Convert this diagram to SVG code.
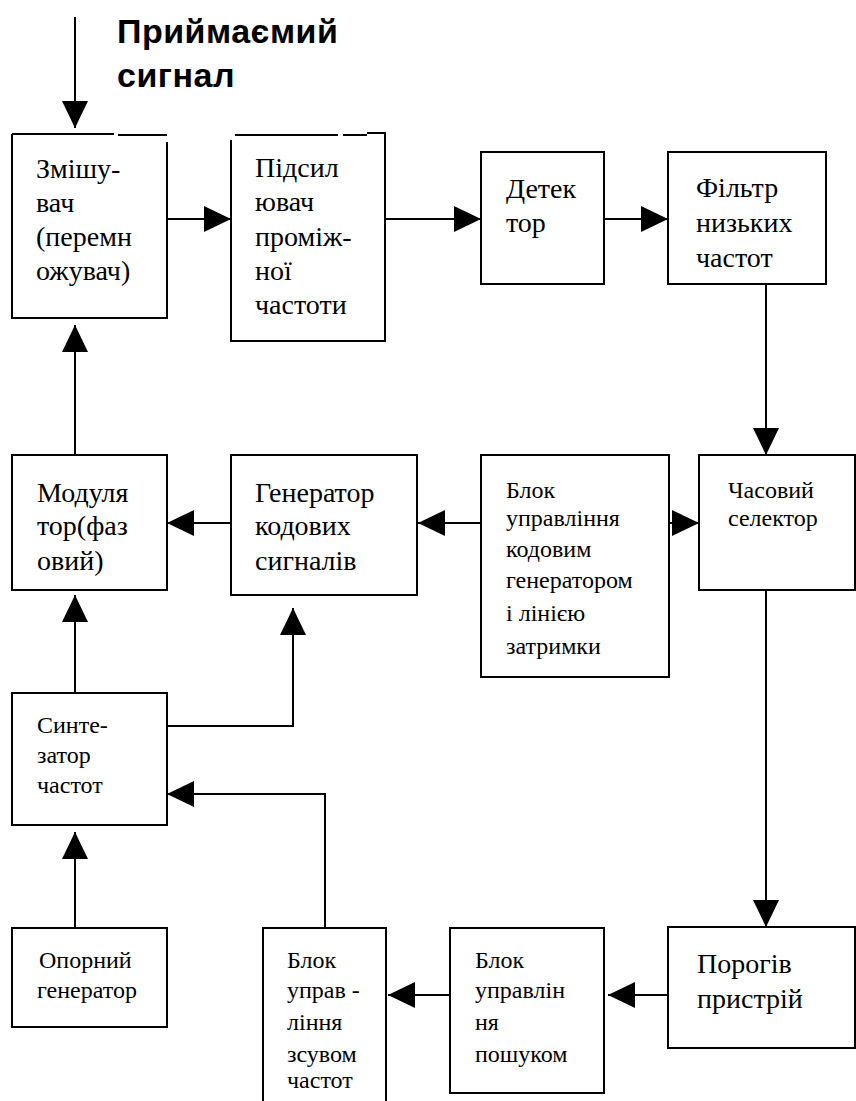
<svg xmlns="http://www.w3.org/2000/svg" width="856" height="1101" viewBox="0 0 856 1101">
<style>
  .box { fill: #ffffff; stroke: #000000; stroke-width: 2; }
  .edge { fill: none; stroke: #000000; stroke-width: 2; }
  .big { font-size: 28px; fill: #000000; }
  .small { font-size: 24px; fill: #000000; }
  .title { font-size: 34px; font-weight: bold; fill: #000000; letter-spacing: 0.5px; }
</style>
<defs>
  <marker id="arr" markerUnits="userSpaceOnUse" markerWidth="28" markerHeight="26" refX="27" refY="13" orient="auto">
    <path d="M0,0 L27,13 L0,26 Z" fill="#000000"/>
  </marker>
  <clipPath id="clipBottom">
    <rect x="262" y="1077" width="124" height="24"/>
  </clipPath>
</defs>
<rect width="856" height="1101" fill="#ffffff"/>

<g id="title" font-family="Liberation Sans, Arial, sans-serif">
  <text class="title" x="117" y="43">Приймаємий</text>
  <text class="title" x="117" y="87">сигнал</text>
</g>

<g id="connectors">
  <path class="edge" d="M75,17 V128" marker-end="url(#arr)"/>
  <path class="edge" d="M167,219 H231" marker-end="url(#arr)"/>
  <path class="edge" d="M386,219 H481" marker-end="url(#arr)"/>
  <path class="edge" d="M604,219 H668" marker-end="url(#arr)"/>
  <path class="edge" d="M766,284 V455" marker-end="url(#arr)"/>
  <path class="edge" d="M766,590 V927" marker-end="url(#arr)"/>
  <path class="edge" d="M668,995 H608" marker-end="url(#arr)"/>
  <path class="edge" d="M450,995 H388" marker-end="url(#arr)"/>
  <path class="edge" d="M325,928 V794 H167" marker-end="url(#arr)"/>
  <path class="edge" d="M75,928 V832" marker-end="url(#arr)"/>
  <path class="edge" d="M75,705 V595" marker-end="url(#arr)"/>
  <path class="edge" d="M167,726 H293 V608" marker-end="url(#arr)"/>
  <path class="edge" d="M75,455 V325" marker-end="url(#arr)"/>
  <path class="edge" d="M231,523 H167" marker-end="url(#arr)"/>
  <path class="edge" d="M481,523 H418" marker-end="url(#arr)"/>
  <path class="edge" d="M669,523 H699" marker-end="url(#arr)"/>
</g>

<g id="nodes" font-family="Liberation Serif, Tinos, Times New Roman, DejaVu Serif, serif">
<g id="mixer">
  <rect x="12" y="134" width="155" height="184" fill="#ffffff"/>
  <path class="edge" d="M12,134 H114 M118,135 H167 M167,142 V318 H12 V134"/>
  <text class="big" x="36" y="178">Змішу-</text>
  <text class="big" x="36" y="212">вач</text>
  <text class="big" x="36" y="246">(перемн</text>
  <text class="big" x="36" y="280">ожувач)</text>
</g>

<g id="if-amp">
  <rect x="231" y="135" width="155" height="206" fill="#ffffff"/>
  <path class="edge" d="M231,140 V341 H385 V133 H367 M367,135 H343 M338,135 H235"/>
  <text class="big" x="255" y="177">Підсил</text>
  <text class="big" x="255" y="211">ювач</text>
  <text class="big" x="255" y="246">проміж-</text>
  <text class="big" x="255" y="280">ної</text>
  <text class="big" x="255" y="314">частоти</text>
</g>

<g id="detector">
  <rect class="box" x="481" y="152" width="123" height="132"/>
  <text class="big" x="506" y="198">Детек</text>
  <text class="big" x="506" y="232">тор</text>
</g>

<g id="lpf">
  <rect class="box" x="668" y="152" width="158" height="132"/>
  <text class="big" x="696" y="197">Фільтр</text>
  <text class="big" x="696" y="232">низьких</text>
  <text class="big" x="696" y="267">частот</text>
</g>

<g id="modulator">
  <rect class="box" x="12" y="455" width="155" height="135"/>
  <text class="big" x="37" y="502">Модуля</text>
  <text class="big" x="37" y="535">тор(фаз</text>
  <text class="big" x="37" y="570">овий)</text>
</g>

<g id="code-generator">
  <rect class="box" x="231" y="455" width="186" height="140"/>
  <text class="big" x="255" y="502">Генератор</text>
  <text class="big" x="255" y="535">кодових</text>
  <text class="big" x="255" y="570">сигналів</text>
</g>

<g id="code-control">
  <rect class="box" x="481" y="455" width="188" height="222"/>
  <text class="small" x="506" y="498">Блок</text>
  <text class="small" x="506" y="526">управління</text>
  <text class="small" x="506" y="557">кодовим</text>
  <text class="small" x="506" y="588">генератором</text>
  <text class="small" x="506" y="621">і лінією</text>
  <text class="small" x="506" y="654">затримки</text>
</g>

<g id="time-selector">
  <rect class="box" x="699" y="455" width="156" height="135"/>
  <text class="small" x="728" y="498">Часовий</text>
  <text class="small" x="728" y="526">селектор</text>
</g>

<g id="synthesizer">
  <rect class="box" x="12" y="693" width="155" height="132"/>
  <text class="small" x="37" y="733">Синте-</text>
  <text class="small" x="37" y="763">затор</text>
  <text class="small" x="37" y="793">частот</text>
</g>

<g id="reference-generator">
  <rect class="box" x="12" y="928" width="155" height="99"/>
  <text class="small" x="39" y="968">Опорний</text>
  <text class="small" x="37" y="998">генератор</text>
</g>

<g id="shift-control">
  <path class="box" d="M263,1102 V928 H386 V1102"/>
  <text class="small" x="287" y="968">Блок</text>
  <text class="small" x="287" y="998">управ -</text>
  <text class="small" x="287" y="1030">ління</text>
  <text class="small" x="287" y="1062">зсувом</text>
  <text class="small" x="287" y="1088" clip-path="url(#clipBottom)">частот</text>
</g>

<g id="search-control">
  <rect class="box" x="450" y="928" width="154" height="165"/>
  <text class="small" x="475" y="968">Блок</text>
  <text class="small" x="475" y="998">управлін</text>
  <text class="small" x="475" y="1030">ня</text>
  <text class="small" x="475" y="1062">пошуком</text>
</g>

<g id="threshold">
  <rect class="box" x="668" y="927" width="187" height="121"/>
  <text class="big" x="697" y="973">Порогів</text>
  <text class="big" x="697" y="1008">пристрій</text>
</g>
</g>
</svg>
